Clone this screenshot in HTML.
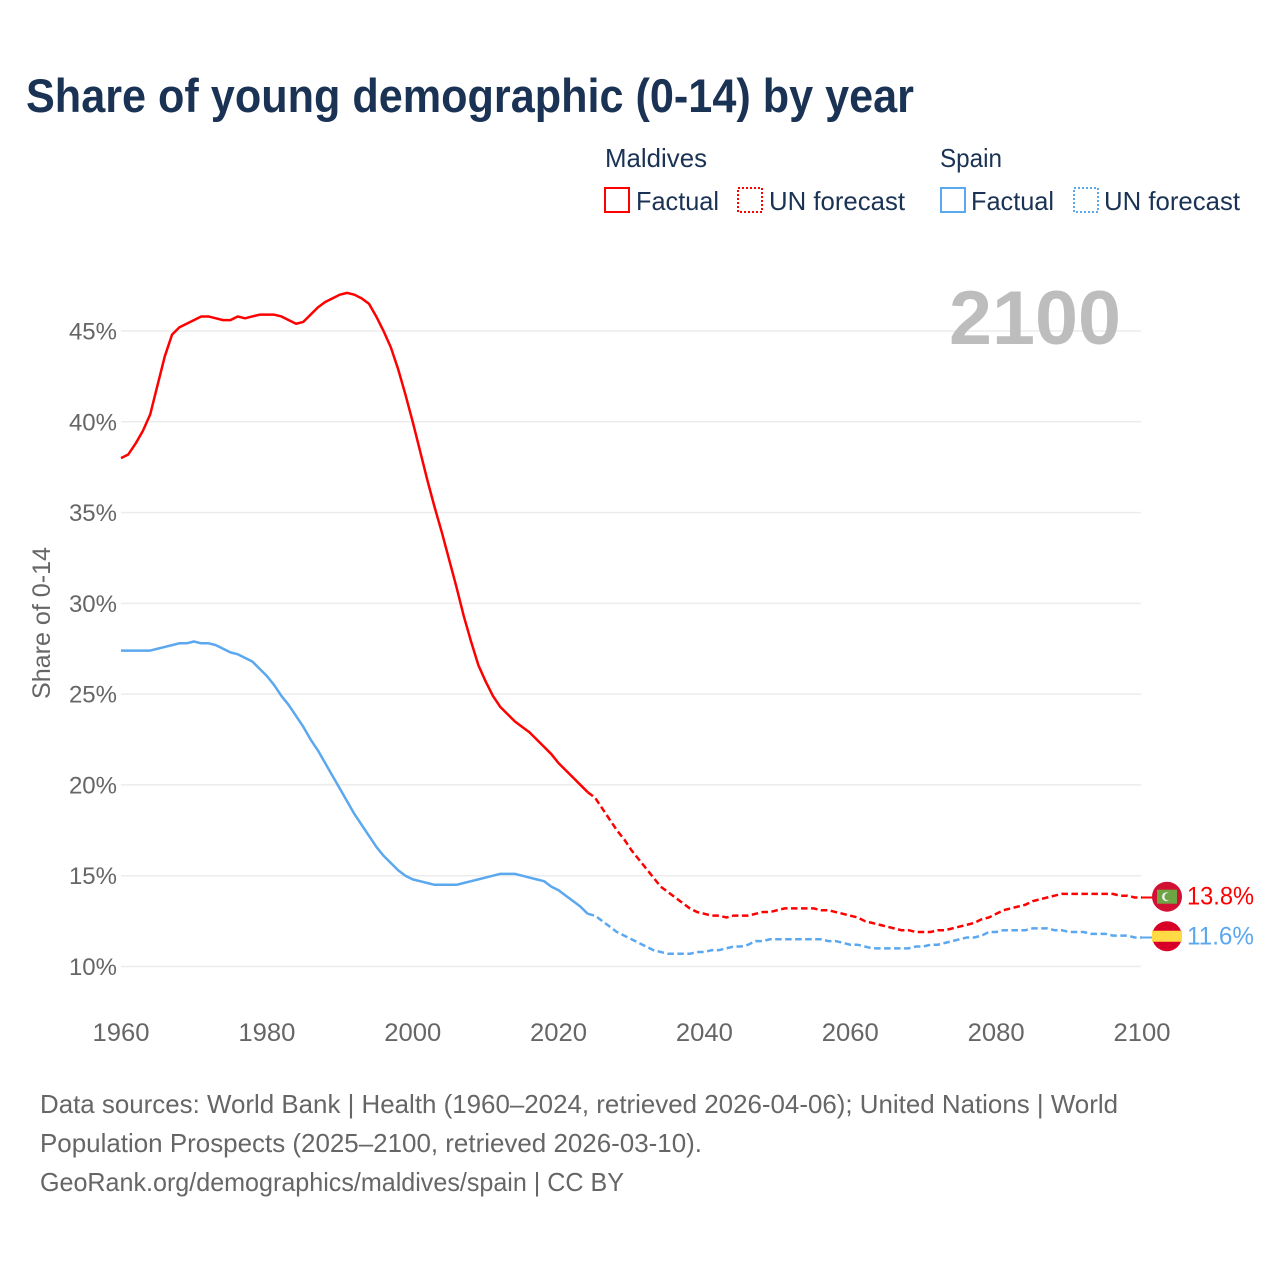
<!DOCTYPE html>
<html lang="en">
<head>
<meta charset="utf-8">
<title>Share of young demographic (0-14) by year</title>
<style>
html,body{margin:0;padding:0;background:#fff;}
svg{display:block;font-family:"Liberation Sans",Arial,sans-serif;}
</style>
</head>
<body>
<svg id="chart" xmlns="http://www.w3.org/2000/svg" width="1280" height="1280" viewBox="0 0 1280 1280">
  <rect width="1280" height="1280" fill="#fff"/>
  <text x="26" y="112" font-size="47" font-weight="700" fill="#1a3254" textLength="888" lengthAdjust="spacingAndGlyphs">Share of young demographic (0-14) by year</text>

  <g font-size="26" fill="#1a3254">
    <text x="605" y="167" textLength="102" lengthAdjust="spacingAndGlyphs">Maldives</text>
    <rect x="605" y="188" width="24" height="24" fill="none" stroke="#ff0000" stroke-width="2"/>
    <text x="636" y="210" textLength="83" lengthAdjust="spacingAndGlyphs">Factual</text>
    <rect x="738" y="188" width="24" height="24" fill="none" stroke="#ff0000" stroke-width="2" stroke-dasharray="2 2"/>
    <text x="769" y="210" textLength="136" lengthAdjust="spacingAndGlyphs">UN forecast</text>
    <text x="940" y="167" textLength="62" lengthAdjust="spacingAndGlyphs">Spain</text>
    <rect x="941" y="188" width="24" height="24" fill="none" stroke="#5ba8ef" stroke-width="2"/>
    <text x="971" y="210" textLength="83" lengthAdjust="spacingAndGlyphs">Factual</text>
    <rect x="1074" y="188" width="24" height="24" fill="none" stroke="#5ba8ef" stroke-width="2" stroke-dasharray="2 2"/>
    <text x="1104" y="210" textLength="136" lengthAdjust="spacingAndGlyphs">UN forecast</text>
  </g>

  <g id="grid"></g>
  <text x="949" y="344" font-size="76" font-weight="700" fill="#bdbdbd" textLength="172" lengthAdjust="spacingAndGlyphs">2100</text>
  <g id="y-axis"></g>
  <g id="x-axis"></g>
  <text transform="translate(50,623) rotate(-90)" text-anchor="middle" font-size="25" fill="#666" textLength="152" lengthAdjust="spacingAndGlyphs">Share of 0-14</text>
  <g id="series"></g>
  <g id="end-markers"></g>

  <g font-size="26" fill="#666">
    <text x="40" y="1113" textLength="1078" lengthAdjust="spacingAndGlyphs">Data sources: World Bank | Health (1960–2024, retrieved 2026-04-06); United Nations | World</text>
    <text x="40" y="1152" textLength="662" lengthAdjust="spacingAndGlyphs">Population Prospects (2025–2100, retrieved 2026-03-10).</text>
    <text x="40" y="1191" textLength="584" lengthAdjust="spacingAndGlyphs">GeoRank.org/demographics/maldives/spain | CC BY</text>
  </g>
</svg>
<script>
const yTicks = [10, 15, 20, 25, 30, 35, 40, 45];
const xTicks = [1960, 1980, 2000, 2020, 2040, 2060, 2080, 2100];
const factualStartYear = 1960;
const forecastStartYear = 2024;
const maldivesFactual = [
  38.0,38.2,38.8,39.5,40.4,42.0,43.6,44.8,45.2,45.4,
  45.6,45.8,45.8,45.7,45.6,45.6,45.8,45.7,45.8,45.9,
  45.9,45.9,45.8,45.6,45.4,45.5,45.9,46.3,46.6,46.8,
  47.0,47.1,47.0,46.8,46.5,45.8,45.0,44.1,42.9,41.5,
  40.0,38.4,36.8,35.3,33.9,32.4,30.9,29.3,27.9,26.6,
  25.7,24.9,24.3,23.9,23.5,23.2,22.9,22.5,22.1,21.7,
  21.2,20.8,20.4,20.0,19.6
];
const maldivesForecast = [
  19.6,19.3,18.7,18.1,17.5,17.0,
  16.4,15.9,15.4,14.9,14.4,14.1,13.8,13.5,13.2,13.0,
  12.9,12.8,12.8,12.7,12.8,12.8,12.8,12.9,13.0,13.0,
  13.1,13.2,13.2,13.2,13.2,13.2,13.1,13.1,13.0,12.9,
  12.8,12.7,12.5,12.4,12.3,12.2,12.1,12.0,12.0,11.9,
  11.9,11.9,12.0,12.0,12.1,12.2,12.3,12.4,12.6,12.7,
  12.9,13.1,13.2,13.3,13.4,13.6,13.7,13.8,13.9,14.0,
  14.0,14.0,14.0,14.0,14.0,14.0,14.0,13.9,13.9,13.8,
  13.8
];
const spainFactual = [
  27.4,27.4,27.4,27.4,27.4,27.5,27.6,27.7,27.8,27.8,
  27.9,27.8,27.8,27.7,27.5,27.3,27.2,27.0,26.8,26.4,
  26.0,25.5,24.9,24.4,23.8,23.2,22.5,21.9,21.2,20.5,
  19.8,19.1,18.4,17.8,17.2,16.6,16.1,15.7,15.3,15.0,
  14.8,14.7,14.6,14.5,14.5,14.5,14.5,14.6,14.7,14.8,
  14.9,15.0,15.1,15.1,15.1,15.0,14.9,14.8,14.7,14.4,
  14.2,13.9,13.6,13.3,12.9
];
const spainForecast = [
  12.9,12.8,12.5,12.2,11.9,11.7,
  11.5,11.3,11.1,10.9,10.8,10.7,10.7,10.7,10.7,10.8,
  10.8,10.9,10.9,11.0,11.1,11.1,11.2,11.4,11.4,11.5,
  11.5,11.5,11.5,11.5,11.5,11.5,11.5,11.4,11.4,11.3,
  11.2,11.2,11.1,11.0,11.0,11.0,11.0,11.0,11.0,11.1,
  11.1,11.2,11.2,11.3,11.4,11.5,11.6,11.6,11.7,11.9,
  11.9,12.0,12.0,12.0,12.0,12.1,12.1,12.1,12.0,12.0,
  11.9,11.9,11.9,11.8,11.8,11.8,11.7,11.7,11.7,11.6,
  11.6
];

const SVG_NS = 'http://www.w3.org/2000/svg';
const MALDIVES_COLOR = '#ff0000';
const SPAIN_COLOR = '#5ba8ef';
const FLAG_X = 1167;

function xScale(year) { return 121 + (year - 1960) * (1021 / 140); }
function yScale(value) { return 966.5 - (value - 10) * (635.5 / 35); }
function make(tag, attrs, parent) {
  const el = document.createElementNS(SVG_NS, tag);
  for (const k in attrs) el.setAttribute(k, attrs[k]);
  parent.appendChild(el);
  return el;
}
function linePoints(values, startYear) {
  return values.map((v, i) => xScale(startYear + i).toFixed(2) + ',' + yScale(v).toFixed(2)).join(' ');
}

const gridGroup = document.getElementById('grid');
const yAxisGroup = document.getElementById('y-axis');
const xAxisGroup = document.getElementById('x-axis');
const seriesGroup = document.getElementById('series');
const markerGroup = document.getElementById('end-markers');

yTicks.forEach(t => {
  const y = yScale(t);
  const grid = make('line', {x1: 121, x2: 1141, y1: y, y2: y, stroke: '#ececec', 'stroke-width': 1.5}, gridGroup);
  
  
  const label = make('text', {x: 117, y: y + 8.5, 'text-anchor': 'end', 'font-size': 24, fill: '#666'}, yAxisGroup);
  label.textContent = t + '%';
  
  
});

xTicks.forEach(t => {
  const label = make('text', {x: xScale(t), y: 1041, 'text-anchor': 'middle', 'font-size': 25, fill: '#666', textLength: 57, lengthAdjust: 'spacingAndGlyphs'}, xAxisGroup);
  label.textContent = String(t);
  
  
});

function drawSeries(name, color, factual, forecast) {
  const solid = make('polyline', {points: linePoints(factual, factualStartYear), fill: 'none', stroke: color, 'stroke-width': 2.5, 'stroke-linejoin': 'round'}, seriesGroup);
  
  
  const dashed = make('polyline', {points: linePoints(forecast, forecastStartYear), fill: 'none', stroke: color, 'stroke-width': 2.5, 'stroke-dasharray': '6.5 3.5'}, seriesGroup);
  
  
  const last = forecast[forecast.length - 1];
  const lastY = yScale(last);
  const connector = make('line', {x1: xScale(2100), x2: FLAG_X, y1: lastY, y2: lastY, stroke: color, 'stroke-width': 2}, markerGroup);
  
  
  return {last, lastY};
}

const maldivesEnd = drawSeries('maldives', MALDIVES_COLOR, maldivesFactual, maldivesForecast);
const spainEnd = drawSeries('spain', SPAIN_COLOR, spainFactual, spainForecast);

function drawEndLabel(name, color, end) {
  const label = make('text', {x: 1187, y: end.lastY + 7, 'font-size': 25, fill: color, textLength: 67, lengthAdjust: 'spacingAndGlyphs'}, markerGroup);
  label.textContent = end.last.toFixed(1) + '%';
  
  
}
drawEndLabel('maldives', MALDIVES_COLOR, maldivesEnd);
drawEndLabel('spain', SPAIN_COLOR, spainEnd);

const mvY = maldivesEnd.lastY - 0.8;
const mvFlag = make('g', {}, markerGroup);


make('circle', {cx: FLAG_X, cy: mvY, r: 15, fill: '#d21034'}, mvFlag);
make('rect', {x: FLAG_X - 10, y: mvY - 7, width: 20, height: 14, fill: '#6da544'}, mvFlag);
make('circle', {cx: FLAG_X - 0.5, cy: mvY, r: 4.5, fill: '#eeeeee'}, mvFlag);
make('circle', {cx: FLAG_X + 1.2, cy: mvY, r: 3.8, fill: '#6da544'}, mvFlag);

const esY = spainEnd.lastY - 1.2;
const esFlag = make('g', {}, markerGroup);


make('circle', {cx: FLAG_X, cy: esY, r: 15, fill: '#d80027'}, esFlag);
make('path', {d: 'M' + (FLAG_X - 15) + ' ' + (esY - 5.5) + 'H' + (FLAG_X + 15) + 'V' + (esY + 5.5) + 'H' + (FLAG_X - 15) + 'Z', fill: '#ffda44'}, esFlag);
</script>
</body>
</html>
